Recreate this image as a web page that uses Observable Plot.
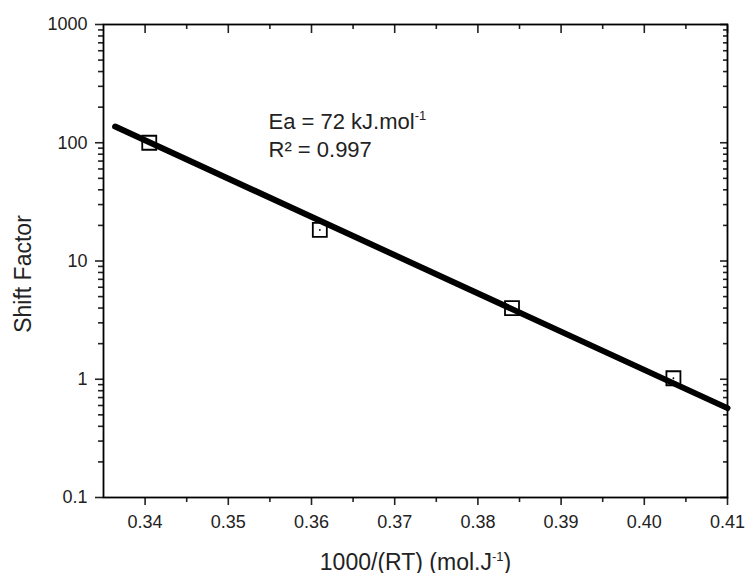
<!DOCTYPE html>
<html><head><meta charset="utf-8">
<script src="https://cdn.jsdelivr.net/npm/d3@7"></script>
<script src="https://cdn.jsdelivr.net/npm/@observablehq/plot@0.6"></script>
<style>html,body{margin:0;padding:0;background:#fff;}</style>
</head><body><div id="chart"></div>
<script>
// measured points
const invRT = [0.3405, 0.3610, 0.3841, 0.4035];
const shiftFactor = [100, 18.3, 4.0, 1.02];
// fitted Arrhenius line (endpoints)
const fitX = [0.3364, 0.4100];
const fitY = [137, 0.57];
// ticks
const xTicks = [0.34, 0.35, 0.36, 0.37, 0.38, 0.39, 0.40, 0.41];
const xMinorTicks = [0.345, 0.355, 0.365, 0.375, 0.385, 0.395, 0.405];
const yTicks = [0.1, 1, 10, 100, 1000];
const yMinorTicks = [0.2, 0.3, 0.4, 0.5, 0.6, 0.7, 0.8, 0.9,
  2, 3, 4, 5, 6, 7, 8, 9, 20, 30, 40, 50, 60, 70, 80, 90,
  200, 300, 400, 500, 600, 700, 800, 900];
const xLabel = ["1000/(RT) (mol.J^{-1})"];
const yLabel = ["Shift Factor"];
const annotation1 = ["Ea = 72 kJ.mol^{-1}"];
const annotation2 = ["R² = 0.997"];

const idx = d3.range(invRT.length);
const fitIdx = d3.range(fitX.length);
const fmtX = d3.format(".2f");
const blank = () => "";

const chart = Plot.plot({
  width: 745, height: 573,
  marginTop: 24, marginRight: 18, marginBottom: 76, marginLeft: 103,
  style: {fontFamily: "'Liberation Sans', Arial, sans-serif", background: "#fff", color: "#222", overflow: "visible"},
  x: {domain: [0.335, 0.41]},
  y: {type: "log", domain: [0.1, 1000]},
  marks: [
    Plot.axisX({anchor: "bottom", ticks: xTicks, tickSize: 8, tickPadding: 10, tickFormat: fmtX, fontSize: 18, label: null, strokeWidth: 1.6}),
    Plot.axisX({anchor: "bottom", ticks: xMinorTicks, tickSize: 5, tickFormat: blank, label: null, strokeWidth: 1.6}),
    Plot.axisX({anchor: "top", ticks: xTicks, tickSize: -8, tickFormat: blank, label: null, strokeWidth: 1.6}),
    Plot.axisX({anchor: "top", ticks: xMinorTicks, tickSize: -4, tickFormat: blank, label: null, strokeWidth: 1.6}),
    Plot.axisY({anchor: "left", ticks: yTicks, tickSize: 8, tickPadding: 8, tickFormat: d => String(d), fontSize: 18, label: null, strokeWidth: 1.6}),
    Plot.axisY({anchor: "left", ticks: yMinorTicks, tickSize: 5, tickFormat: blank, label: null, strokeWidth: 1.6}),
    Plot.axisY({anchor: "right", ticks: yTicks, tickSize: -8, tickFormat: blank, label: null, strokeWidth: 1.6}),
    Plot.axisY({anchor: "right", ticks: yMinorTicks, tickSize: -5, tickFormat: blank, label: null, strokeWidth: 1.6}),
    Plot.frame({stroke: "#000", strokeWidth: 1.8}),
    Plot.dot(idx, {x: i => invRT[i], y: i => shiftFactor[i], symbol: "square", r: 7.9, stroke: "#000", strokeWidth: 1.8, fill: "none"}),
    Plot.dot(idx, {x: i => invRT[i], y: i => shiftFactor[i], r: 0.9, fill: "#000"}),
    Plot.line(fitIdx, {x: i => fitX[i], y: i => fitY[i], stroke: "#000", strokeWidth: 6}),
    Plot.text(yLabel, {frameAnchor: "left", textAnchor: "middle", rotate: -90, dx: -80, dy: 13, fontSize: 23, fill: "#222"}),
    Plot.text(xLabel, {frameAnchor: "bottom", textAnchor: "middle", lineAnchor: "bottom", dy: 72, fontSize: 23, fill: "#222"}),
    Plot.text(annotation1, {frameAnchor: "top-left", textAnchor: "start", lineAnchor: "bottom", dx: 165, dy: 104, fontSize: 22, fill: "#222"}),
    Plot.text(annotation2, {frameAnchor: "top-left", textAnchor: "start", lineAnchor: "bottom", dx: 165, dy: 132, fontSize: 22, fill: "#222"})
  ]
});

// turn ^{...} into real superscript tspans
d3.select(chart).selectAll("text").each(function () {
  const targets = this.querySelectorAll("tspan").length ? [...this.querySelectorAll("tspan")] : [this];
  for (const n of targets) {
    const s = n.textContent;
    if (!s.includes("^{")) continue;
    const parts = s.split(/\^\{([^}]*)\}/);
    n.textContent = "";
    parts.forEach((p, i) => {
      if (!p) return;
      const t = document.createElementNS("http://www.w3.org/2000/svg", "tspan");
      t.textContent = p;
      if (i % 2) { t.setAttribute("font-size", "13"); t.setAttribute("dy", "-9"); }
      else if (i > 0) { t.setAttribute("dy", "9"); }
      n.appendChild(t);
    });
  }
});

document.getElementById("chart").appendChild(chart);
</script>
</body></html>
